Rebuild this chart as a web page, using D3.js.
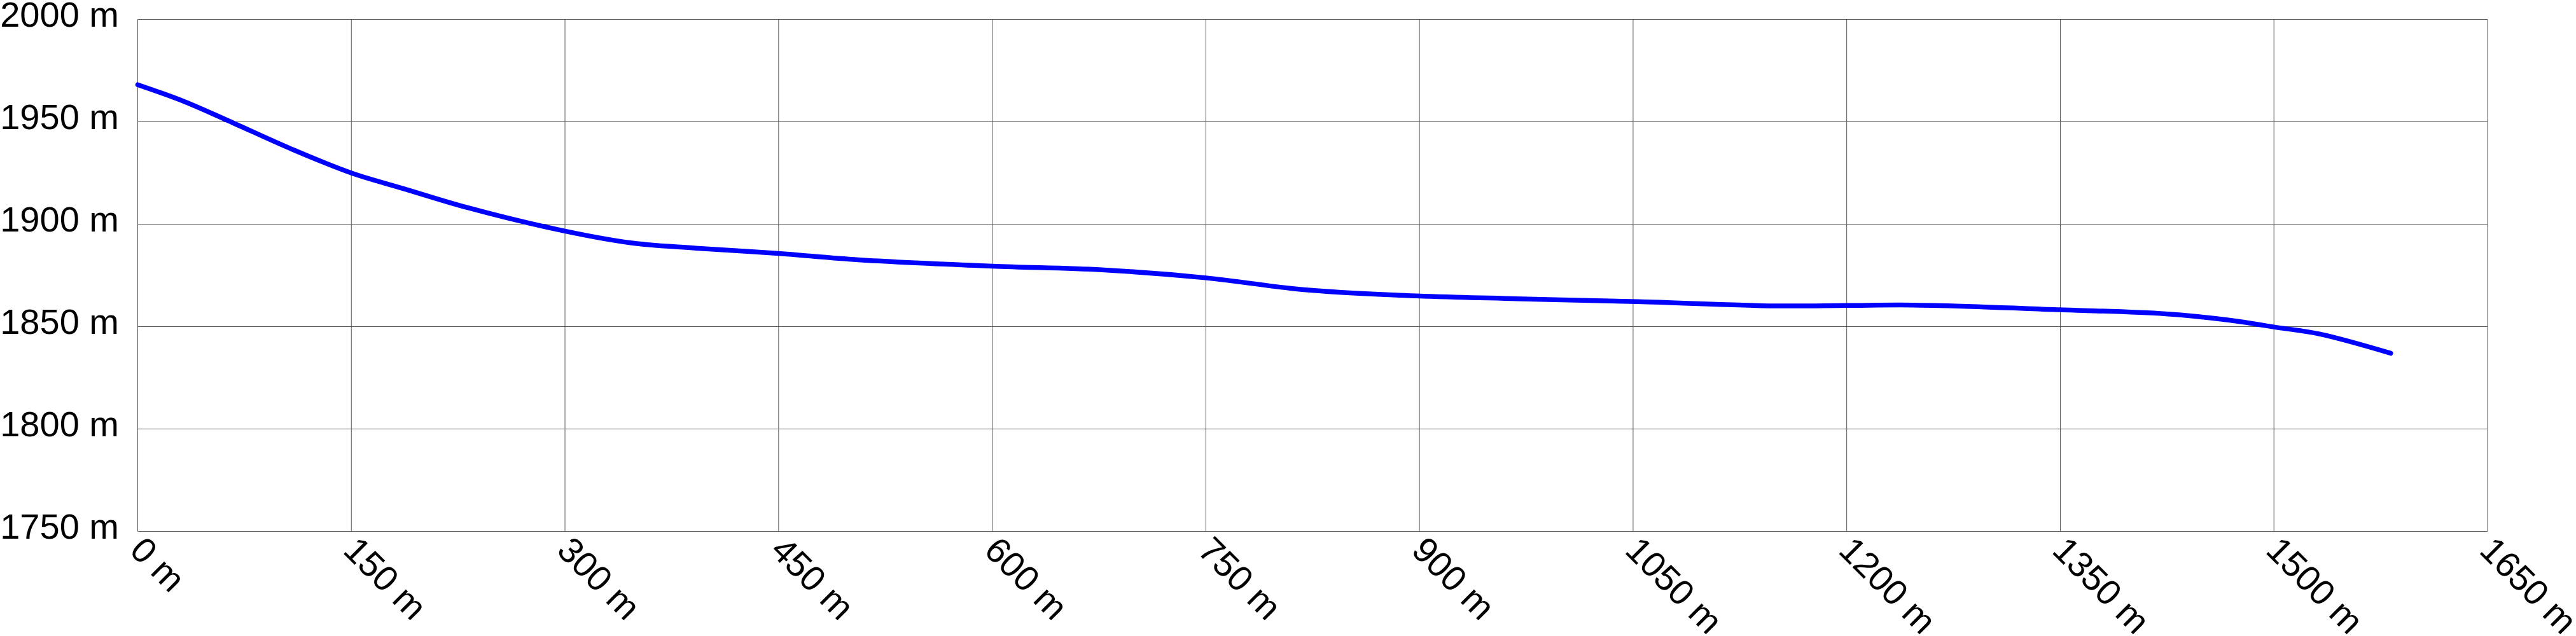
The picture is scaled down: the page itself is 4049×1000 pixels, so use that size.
<!DOCTYPE html>
<html>
<head>
<meta charset="utf-8">
<script src="https://cdn.jsdelivr.net/npm/d3@7"></script>
<style>
  html, body { margin: 0; padding: 0; background: #fff; }
  svg { display: block; }
  text { font-family: "Liberation Sans", Arial, sans-serif; fill: #000; }
</style>
</head>
<body>
<svg id="chart" width="4049" height="1000"></svg>
<script>
// Data: distance (m) and elevation (m)
const distances = [0, 33, 64, 107, 150, 187, 232, 300, 346, 392, 450, 506, 600, 677, 750, 819, 886, 968, 1053, 1150, 1200, 1247, 1350, 1424, 1469, 1500, 1532, 1582];
const elevations = [1968.1, 1959.8, 1950.4, 1937, 1925, 1917.3, 1908, 1896.6, 1890.9, 1888.3, 1885.7, 1882.6, 1879.5, 1877.7, 1873.8, 1868, 1865.3, 1863.6, 1862.2, 1860.1, 1860.3, 1860.5, 1858.2, 1856.2, 1853.1, 1849.8, 1846.4, 1837];
const xTicks = [0, 150, 300, 450, 600, 750, 900, 1050, 1200, 1350, 1500, 1650];
const yTicks = [1750, 1800, 1850, 1900, 1950, 2000];

const svg = d3.select("#chart");
const plotL = 216.5, plotR = 3910, plotT = 30.5, plotB = 835.5;

const x = d3.scaleLinear().domain([0, 1650]).range([plotL, plotR]);
const y = d3.scaleLinear().domain([1750, 2000]).range([plotB, plotT]);

const gridColor = "#555";

// horizontal gridlines
svg.append("g").selectAll("line").data(yTicks).join("line")
  .attr("x1", plotL).attr("x2", plotR)
  .attr("y1", d => y(d)).attr("y2", d => y(d))
  .attr("stroke", gridColor).attr("stroke-width", 1);

// vertical gridlines
svg.append("g").selectAll("line").data(xTicks).join("line")
  .attr("x1", d => x(d)).attr("x2", d => x(d))
  .attr("y1", plotT).attr("y2", plotB)
  .attr("stroke", gridColor).attr("stroke-width", 1);

// y labels
svg.append("g").selectAll("text").data(yTicks).join("text")
  .attr("x", 187)
  .attr("y", d => y(d) + 11)
  .attr("text-anchor", "end")
  .attr("font-size", 56)
  .text(d => d + " m");

// x labels (rotated)
svg.append("g").selectAll("text").data(xTicks).join("text")
  .attr("transform", d => `translate(${x(d) - 15},868) rotate(45)`)
  .attr("text-anchor", "start")
  .attr("font-size", 56)
  .text(d => d + " m");

// profile line
const pts = distances.map((d, i) => [d, elevations[i]]);
const line = d3.line()
  .x(d => x(d[0]))
  .y(d => y(d[1]))
  .curve(d3.curveCatmullRom.alpha(0.5));

svg.append("path")
  .datum(pts)
  .attr("d", line)
  .attr("fill", "none")
  .attr("stroke", "#0000ff")
  .attr("stroke-width", 7.5)
  .attr("stroke-linecap", "round")
  .attr("stroke-linejoin", "round");
</script>
</body>
</html>
